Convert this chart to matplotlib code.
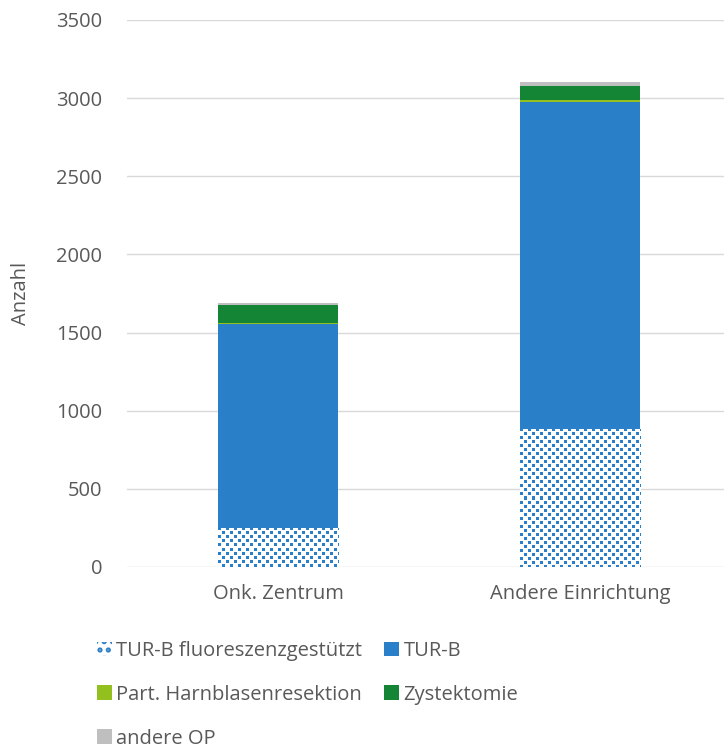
import matplotlib
matplotlib.use("Agg")
import matplotlib.pyplot as plt
import matplotlib.colors as mcolors
import numpy as np

categories = ["Onk. Zentrum", "Andere Einrichtung"]
series_names = ["TUR-B fluoreszenzgestützt", "TUR-B", "Part. Harnblasenresektion",
                "Zystektomie", "andere OP"]
tur_b_fluor = [250, 883]
tur_b = [1305, 2093]
part_resektion = [6, 9]
zystektomie = [115, 93]
andere_op = [12, 25]
y_ticks = [0, 500, 1000, 1500, 2000, 2500, 3000, 3500]

blue = "#2A7FC9"
colors = [blue, blue, "#93C01F", "#138535", "#BFBFBF"]
text_col = "#595959"

plt.rcParams["font.family"] = ["Open Sans", "DejaVu Sans"]
plt.rcParams["hatch.linewidth"] = 2.5


def dot_pattern(h, w):
    # staggered small squares, like the Excel pattern fill
    r, c = np.indices((h, w))
    on = ((r // 4 + c // 4) % 2 == 0) & (r % 4 < 3) & (c % 4 < 3)
    img = np.ones((h, w, 3))
    img[on] = mcolors.to_rgb(blue)
    return img


fig = plt.figure(figsize=(7.24, 7.51), dpi=100)
ax = fig.add_axes([127 / 724, 184 / 751, 604 / 724, 547 / 751])

x = np.arange(len(categories))
w = 0.4
values = [tur_b_fluor, tur_b, part_resektion, zystektomie, andere_op]
bottom = np.zeros(len(categories))
handles = []
ax.set_xlim(-0.5, 1.5)
ax.set_ylim(0, 3500)
for i, (name, vals) in enumerate(zip(series_names, values)):
    if i == 0:
        h = ax.bar(x, vals, w, bottom=bottom, facecolor="white", edgecolor=blue,
                   linewidth=0, label=name, zorder=3)
        for p in h.patches:
            bx, by = p.get_x(), p.get_y()
            bw, bh = p.get_width(), p.get_height()
            (px0, py0), (px1, py1) = ax.transData.transform([(bx, by), (bx + bw, by + bh)])
            img = dot_pattern(int(round(py1 - py0)), int(round(px1 - px0)))
            im = ax.imshow(img, extent=(bx, bx + bw, by, by + bh), origin="upper",
                           interpolation="nearest", aspect="auto", zorder=3.5)
            im.set_clip_path(p)
    else:
        h = ax.bar(x, vals, w, bottom=bottom, color=colors[i], linewidth=0,
                   label=name, zorder=3)
    handles.append(h)
    bottom += np.array(vals)

ax.set_xlim(-0.5, 1.5)
ax.set_ylim(0, 3500)
ax.set_yticks(y_ticks)
ax.set_yticklabels([str(t) for t in y_ticks])
ax.set_xticks(x)
ax.set_xticklabels(categories)
ax.yaxis.grid(True, color="#D9D9D9", linewidth=1.0, zorder=0)
ax.set_axisbelow(True)
for s in ax.spines.values():
    s.set_visible(False)
ax.tick_params(axis="both", length=0, labelsize=14.5, colors=text_col)
ax.tick_params(axis="y", pad=18)
ax.tick_params(axis="x", pad=12)
ax.set_ylabel("Anzahl", fontsize=14.5, color=text_col, labelpad=18)

order = [0, 2, 4, 1, 3]
leg = fig.legend([handles[i] for i in order], [series_names[i] for i in order],
                 ncol=2, loc="upper left", bbox_to_anchor=(97 / 724, 1 - 641 / 751),
                 frameon=False, fontsize=14.5, handlelength=0.75, handleheight=0.75,
                 handletextpad=0.2, columnspacing=1.1, labelspacing=1.18,
                 borderaxespad=0, borderpad=0)
leg.legend_handles[0].set_hatch("..")
for t in leg.get_texts():
    t.set_color(text_col)

fig.savefig("out.png", dpi=100)
